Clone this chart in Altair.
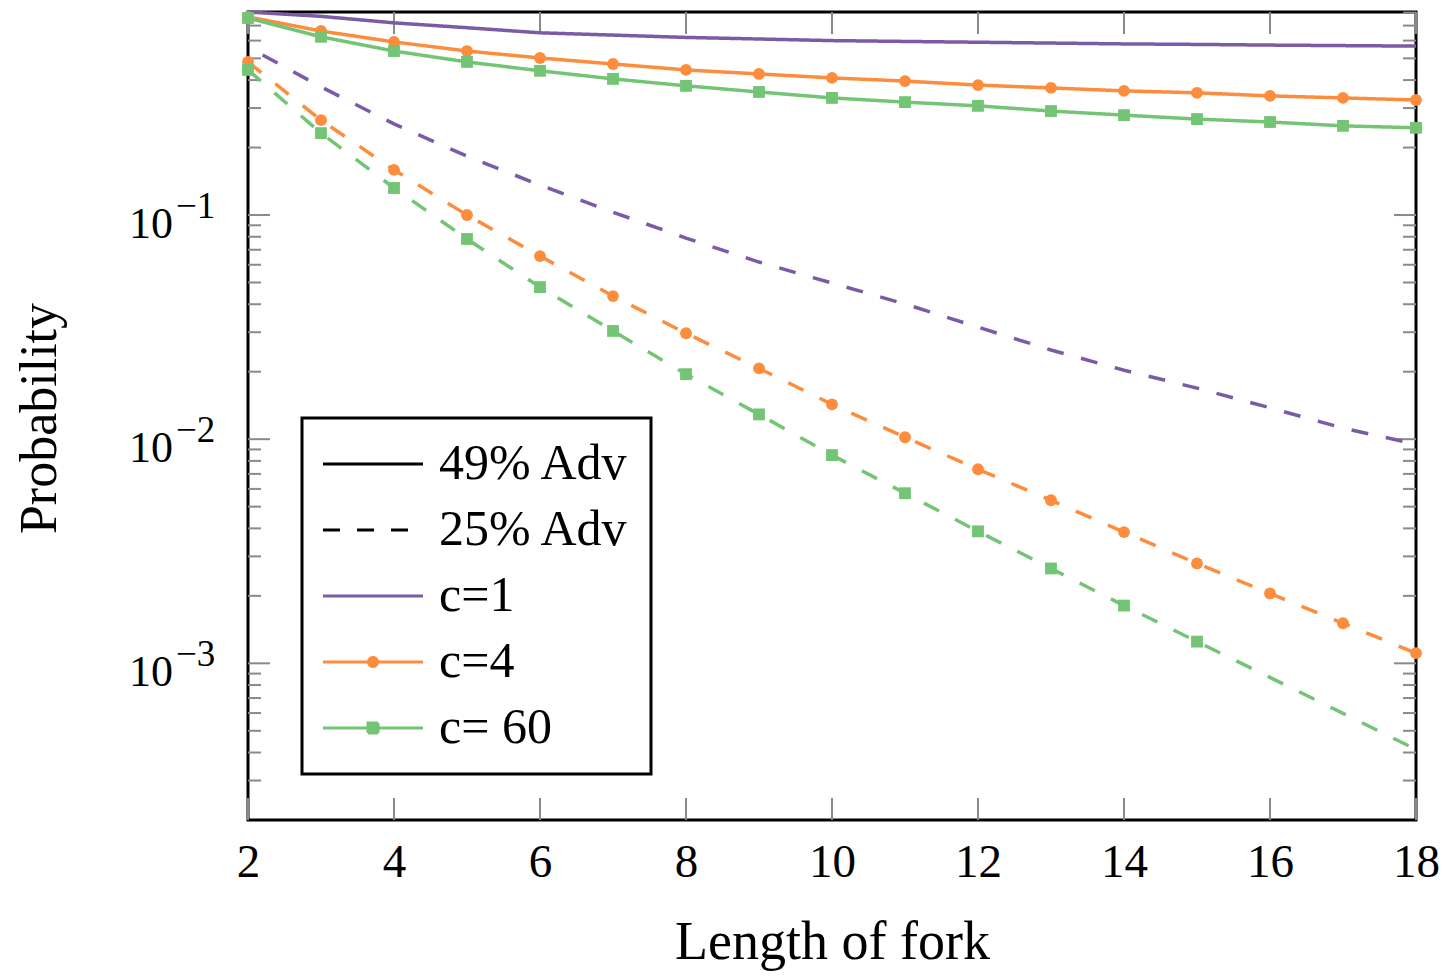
import altair as alt
import pandas as pd

FONT = "Liberation Serif"
W, H = 1168, 808

# ---------------- data ----------------
xs = list(range(2, 19))
xs_c1_25 = [2.2] + list(range(3, 19))

# 49% adversary (solid)
p49_c1 = [0.805, 0.77, 0.72, 0.685, 0.65, 0.635, 0.62, 0.61, 0.60, 0.595,
          0.59, 0.585, 0.58, 0.577, 0.573, 0.57, 0.567]
p49_c4 = [0.766, 0.662, 0.592, 0.539, 0.502, 0.472, 0.444, 0.426, 0.409,
          0.396, 0.380, 0.369, 0.358, 0.351, 0.340, 0.333, 0.326]
p49_c60 = [0.757, 0.624, 0.539, 0.482, 0.440, 0.405, 0.377, 0.354, 0.333,
           0.319, 0.307, 0.291, 0.279, 0.268, 0.260, 0.250, 0.245]

# 25% adversary (dashed)
p25_c1 = [0.518, 0.373, 0.255, 0.183, 0.136, 0.103, 0.0789, 0.0617, 0.0497,
          0.0401, 0.0316, 0.0250, 0.0203, 0.0169, 0.0138, 0.0112, 0.0095]
p25_c4 = [0.482, 0.265, 0.159, 0.100, 0.0656, 0.0435, 0.0297, 0.0207, 0.0143,
          0.0102, 0.00734, 0.00534, 0.00385, 0.00279, 0.00205, 0.00151, 0.00111]
p25_c60 = [0.444, 0.232, 0.132, 0.0782, 0.0477, 0.0304, 0.0195, 0.0129,
           0.00849, 0.00574, 0.00388, 0.00265, 0.00181, 0.00125, 0.000865,
           0.000598, 0.000413]
c60_25_marker_last = 15

legend_domain = ["49% Adv", "25% Adv", "c=1", "c=4", "c= 60"]
legend_colors = ["#000000", "#000000", "#7b5aa6", "#fd8d3c", "#74c476"]
adv_names = ["49% Adv", "25% Adv"]

x_tick_values = [2, 4, 6, 8, 10, 12, 14, 16, 18]
y_major = [0.1, 0.01, 0.001]
y_base = ["10", "10", "10"]
y_exp = ["\u22121", "\u22122", "\u22123"]
y_minor = ([k * 1e-4 for k in range(3, 10)] + [k * 1e-3 for k in range(2, 10)]
           + [k * 1e-2 for k in range(2, 10)] + [k * 1e-1 for k in range(2, 9)])

# ---------------- tables ----------------
rows = []
def add(series, adv, xv, pv, marker_max=99):
    for a, b in zip(xv, pv):
        rows.append({"series": series, "adv": adv, "x": a, "p": b,
                     "marker": series != "c=1" and a <= marker_max})

add("c=1", "49% Adv", xs, p49_c1)
add("c=4", "49% Adv", xs, p49_c4)
add("c= 60", "49% Adv", xs, p49_c60)
add("c=1", "25% Adv", xs_c1_25, p25_c1)
add("c=4", "25% Adv", xs, p25_c4)
add("c= 60", "25% Adv", xs, p25_c60, c60_25_marker_last)
df = pd.DataFrame(rows)

ymaj_df = pd.DataFrame({"p": y_major, "base": y_base, "exp": y_exp})
ymin_df = pd.DataFrame({"p": y_minor})
xt_df = pd.DataFrame({"x": x_tick_values})

# ---------------- encodings ----------------
x_scale = alt.Scale(domain=[2, 18], nice=False, zero=False)
y_scale = alt.Scale(type="log", domain=[0.0002, 0.805], nice=False)

x_axis = alt.Axis(values=x_tick_values, ticks=False, domain=False, grid=False,
                  labelFont=FONT, labelFontSize=47, labelPadding=19,
                  labelColor="black", labelFlush=False, labelOverlap=False,
                  title="Length of fork", titleFont=FONT, titleFontSize=54,
                  titleFontWeight="normal", titleColor="black",
                  titleX=W / 2, titleY=138, titleBaseline="alphabetic",
                  titleAlign="center")
y_axis = alt.Axis(labels=False, ticks=False, domain=False, grid=False,
                  title="Probability", titleFont=FONT, titleFontSize=52,
                  titleFontWeight="normal", titleColor="black",
                  titleAngle=270, titleX=-193, titleY=406,
                  titleAlign="center", titleBaseline="alphabetic")

X = alt.X("x:Q", scale=x_scale, axis=x_axis)
Y = alt.Y("p:Q", scale=y_scale, axis=y_axis)

circle_path = "M-2,0H6M2.36,0A0.36,0.36,0,1,1,1.64,0A0.36,0.36,0,1,1,2.36,0Z"
square_path = "M-2,0H6M1.6,-0.4H2.4V0.4H1.6Z"
line_path = "M-2,0H6"

legend = alt.Legend(
    title=None, orient="none", legendX=54, legendY=406, direction="vertical",
    labelFont=FONT, labelFontSize=50, labelColor="black", labelOffset=66,
    labelLimit=500,
    symbolSize=625, symbolStrokeWidth=3, padding=21, rowPadding=16,
    strokeColor="black", fillColor="white", symbolOpacity=1,
    symbolType=alt.ExprRef(expr=f"datum.value === 'c=4' ? '{circle_path}' : (datum.value === 'c= 60' ? '{square_path}' : '{line_path}')"),
    symbolDash=alt.ExprRef(expr="datum.value === '25% Adv' ? [17, 17] : [1, 0]"),
    symbolFillColor=alt.ExprRef(expr="scale('color', datum.value)"),
    symbolStrokeColor=alt.ExprRef(expr="scale('color', datum.value)"),
)

color = alt.Color("series:N", scale=alt.Scale(domain=legend_domain, range=legend_colors),
                  legend=legend)

lines = alt.Chart(df).mark_line(strokeWidth=3.5).encode(
    x=X, y=Y, color=color,
    strokeDash=alt.StrokeDash("adv:N", scale=alt.Scale(domain=adv_names,
                              range=[[1, 0], [17, 18]]), legend=None),
    detail="adv:N",
)

points = alt.Chart(df).transform_filter("datum.marker").mark_point(
    filled=True, size=140, opacity=1).encode(
    x=X, y=Y, color=color,
    shape=alt.Shape("series:N", scale=alt.Scale(domain=["c=4", "c= 60"],
                    range=["circle", "square"]), legend=None),
)

tick_color = "#8a8a8a"
ymaj_l = alt.Chart(ymaj_df).mark_rule(color=tick_color, strokeWidth=2).encode(
    y=Y, x=alt.value(0), x2=alt.value(22))
ymaj_r = alt.Chart(ymaj_df).mark_rule(color=tick_color, strokeWidth=2).encode(
    y=Y, x=alt.value(W - 22), x2=alt.value(W))
ymin_l = alt.Chart(ymin_df).mark_rule(color=tick_color, strokeWidth=2).encode(
    y=Y, x=alt.value(0), x2=alt.value(13))
ymin_r = alt.Chart(ymin_df).mark_rule(color=tick_color, strokeWidth=2).encode(
    y=Y, x=alt.value(W - 13), x2=alt.value(W))
xt_b = alt.Chart(xt_df).mark_rule(color=tick_color, strokeWidth=2).encode(
    x=X, y=alt.value(H - 22), y2=alt.value(H))
xt_t = alt.Chart(xt_df).mark_rule(color=tick_color, strokeWidth=2).encode(
    x=X, y=alt.value(0), y2=alt.value(22))

ylab_base = alt.Chart(ymaj_df).mark_text(
    font=FONT, fontSize=44, align="right", baseline="alphabetic", dy=23,
    color="black").encode(y=Y, x=alt.value(-75), text="base:N")
ylab_exp = alt.Chart(ymaj_df).mark_text(
    font=FONT, fontSize=37, align="left", baseline="alphabetic", dy=3,
    color="black").encode(y=Y, x=alt.value(-72), text="exp:N")

chart = alt.layer(
    ymin_l, ymin_r, ymaj_l, ymaj_r, xt_b, xt_t,
    lines, points, ylab_base, ylab_exp,
).properties(
    width=W, height=H,
    padding={"left": 240, "top": 4, "right": 23, "bottom": 151},
    autosize=alt.AutoSizeParams(type="none"),
).configure_view(stroke="black", strokeWidth=3).configure_legend(strokeWidth=3)

chart.save("out.html", embed_options={"renderer": "svg", "actions": False})
